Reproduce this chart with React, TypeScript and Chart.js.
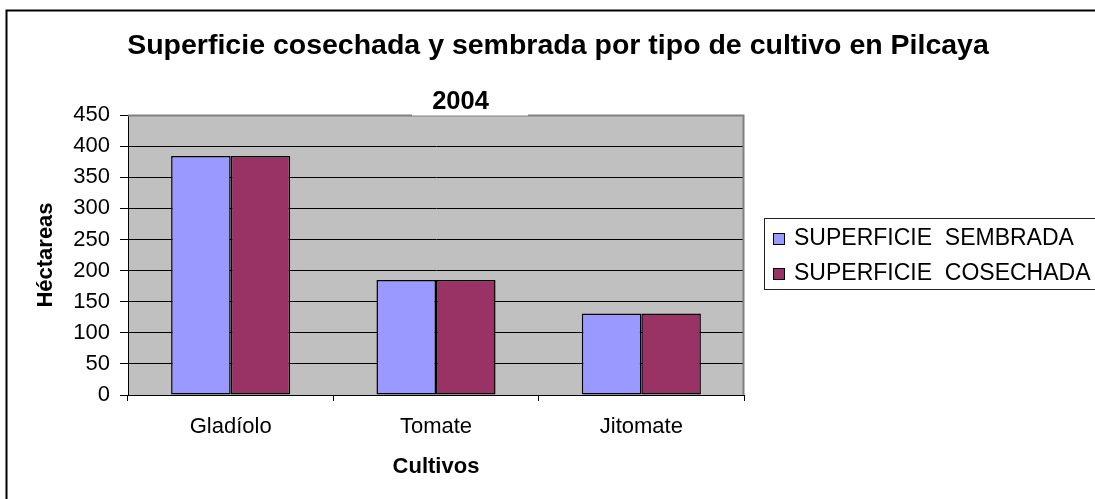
import { useEffect, useRef } from 'react';
import { Chart, registerables } from 'chart.js';

Chart.register(...registerables);

const categories = ['Gladíolo', 'Tomate', 'Jitomate'];
const sembrada = [384, 185, 131];
const cosechada = [384, 185, 131];
const seriesNames = ['SUPERFICIE  SEMBRADA', 'SUPERFICIE  COSECHADA'];
const seriesColors = ['#9999FF', '#993366'];
const yTicks = [0, 50, 100, 150, 200, 250, 300, 350, 400, 450];
const titleText = 'Superficie cosechada y sembrada por tipo de cultivo en Pilcaya';
const subtitleText = '2004';
const xTitle = 'Cultivos';
const yTitle = 'Héctareas';

const FONT = '"Liberation Sans", Arial, Helvetica, sans-serif';

const decor = {
  id: 'decor',
  beforeDraw(chart: any) {
    const { ctx, chartArea: a } = chart;
    ctx.save();
    ctx.fillStyle = '#ffffff';
    ctx.fillRect(0, 0, chart.width, chart.height);
    ctx.fillStyle = '#C0C0C0';
    ctx.fillRect(a.left, a.top, a.right - a.left, a.bottom - a.top);
    ctx.strokeStyle = '#000';
    ctx.lineWidth = 2;
    ctx.strokeRect(6.5, 10.5, chart.width + 40, chart.height + 40);
    ctx.restore();
  },
  afterDatasetsDraw(chart: any) {
    const { ctx, chartArea: a } = chart;
    ctx.save();
    ctx.strokeStyle = '#808080';
    ctx.lineWidth = 2;
    ctx.beginPath();
    ctx.moveTo(a.left, a.top + 0.5);
    ctx.lineTo(a.right - 0.5, a.top + 0.5);
    ctx.lineTo(a.right - 0.5, a.bottom);
    ctx.stroke();
    ctx.restore();
  },
  afterDraw(chart: any) {
    const { ctx, chartArea: a } = chart;
    ctx.save();
    // main title
    ctx.fillStyle = '#000';
    ctx.textAlign = 'center';
    ctx.textBaseline = 'alphabetic';
    ctx.font = `bold 28.5px ${FONT}`;
    ctx.fillText(titleText, 558, 54);
    // subtitle with white box
    ctx.fillStyle = '#fff';
    ctx.fillRect(412, 80, 116, a.top + 0.5 - 80);
    ctx.fillStyle = '#000';
    ctx.font = `bold 25.5px ${FONT}`;
    ctx.fillText(subtitleText, 460.5, 108.5);
    // legend
    ctx.lineWidth = 1;
    ctx.fillStyle = '#fff';
    ctx.fillRect(764.5, 218.5, 400, 71);
    ctx.strokeStyle = '#222';
    ctx.strokeRect(764.5, 218.5, 400, 71);
    ctx.font = `23px ${FONT}`;
    ctx.textAlign = 'left';
    seriesNames.forEach((name, i) => {
      const y = 233 + i * 35;
      ctx.fillStyle = seriesColors[i];
      ctx.fillRect(773, y, 12, 12);
      ctx.strokeStyle = '#000';
      ctx.strokeRect(773.5, y + 0.5, 11, 11);
      ctx.fillStyle = '#000';
      ctx.fillText(name, 794, 244.5 + i * 35);
    });
    ctx.restore();
  },
};

export default function App() {
  const ref = useRef<HTMLCanvasElement | null>(null);
  useEffect(() => {
    if (!ref.current) return;
    Chart.defaults.font.family = FONT;
    const chart = new Chart(ref.current, {
      type: 'bar',
      data: {
        labels: categories,
        datasets: [
          {
            label: seriesNames[0],
            data: sembrada,
            backgroundColor: seriesColors[0],
            borderColor: '#000',
            borderWidth: 1.5,
            borderSkipped: false,
            barPercentage: 1,
            categoryPercentage: 0.58,
          },
          {
            label: seriesNames[1],
            data: cosechada,
            backgroundColor: seriesColors[1],
            borderColor: '#000',
            borderWidth: 1.5,
            borderSkipped: false,
            barPercentage: 1,
            categoryPercentage: 0.58,
          },
        ],
      },
      options: {
        responsive: false,
        animation: false,
        devicePixelRatio: 1,
        layout: { padding: { top: 115, right: 351, bottom: 0, left: 0 } },
        plugins: {
          legend: { display: false },
          title: { display: false },
          tooltip: { enabled: false },
        },
        scales: {
          x: {
            afterFit: (s: any) => {
              s.height = 104;
            },
            grid: {
              offset: true,
              drawOnChartArea: false,
              drawTicks: true,
              tickLength: 6,
              color: '#000',
            },
            border: { color: '#000', width: 1 },
            ticks: {
              color: '#000',
              font: { size: 22, family: FONT },
              padding: 13,
              maxRotation: 0,
            },
            title: {
              display: true,
              text: xTitle,
              color: '#000',
              font: { size: 22, weight: 'bold', family: FONT },
              padding: { top: 0, bottom: 19 },
            },
          },
          y: {
            min: 0,
            max: 450,
            afterFit: (s: any) => {
              s.width = 128;
            },
            afterBuildTicks: (s: any) => {
              s.ticks = yTicks.map((v) => ({ value: v }));
            },
            grid: {
              color: '#000',
              tickColor: '#000',
              tickLength: 8,
              lineWidth: 1,
            },
            border: { color: '#000', width: 1 },
            ticks: {
              color: '#000',
              font: { size: 22, family: FONT },
              padding: 10,
            },
            title: {
              display: true,
              text: yTitle,
              color: '#000',
              font: { size: 22, weight: 'bold', family: FONT },
              padding: { top: 33, bottom: 0 },
            },
          },
        },
      },
      plugins: [decor],
    } as any);
    return () => chart.destroy();
  }, []);
  return (
    <div style={{ position: 'fixed', left: 0, top: 0, width: 1095, height: 499, background: '#fff' }}>
      <canvas ref={ref} width={1095} height={499} style={{ display: 'block' }} />
    </div>
  );
}
